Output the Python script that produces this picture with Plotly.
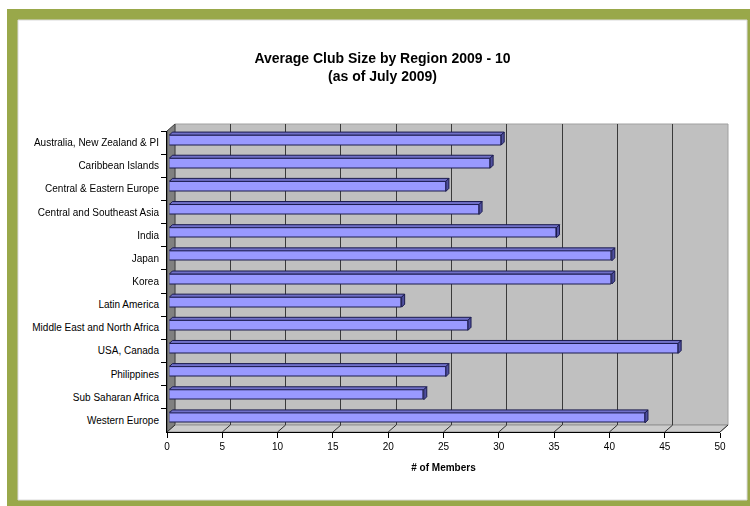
import plotly.graph_objects as go

# Average club size per region (members per club)
regions = [
    "Australia, New Zealand & PI",
    "Caribbean Islands",
    "Central & Eastern Europe",
    "Central and Southeast Asia",
    "India",
    "Japan",
    "Korea",
    "Latin America",
    "Middle East and North Africa",
    "USA, Canada",
    "Philippines",
    "Sub Saharan Africa",
    "Western Europe",
]
members = [30, 29, 25, 28, 35, 40, 40, 21, 27, 46, 25, 23, 43]
x_ticks = [0, 5, 10, 15, 20, 25, 30, 35, 40, 45, 50]

FONT = "Liberation Sans, Arial, sans-serif"
FIG_W, FIG_H = 750, 506
ML, MR, MT, MB = 167, 22, 124, 74
PW = FIG_W - ML - MR          # paper width in px
PH = FIG_H - MT - MB          # paper height in px
XMAX = 50
N = len(regions)

# pseudo-3D geometry (pixels)
DEPTH_X, DEPTH_Y = 8, 7       # back wall offset
BAR_SX, BAR_SY = 2.4, 2.5     # bar front-face offset
BAR_DX, BAR_DY = 3.0, 3.0     # bar depth
FRONT_W = PW - DEPTH_X
FRONT_H = PH - DEPTH_Y
px_per_x = FRONT_W / XMAX
px_per_cat = FRONT_H / N


def fx(px):
    return (px - ML) / PW


def fy(py):
    return (FIG_H - MB - py) / PH


front_left, front_right = ML, ML + FRONT_W
front_bottom, front_top = FIG_H - MB, FIG_H - MB - FRONT_H
back_left, back_right = front_left + DEPTH_X, front_right + DEPTH_X
back_bottom, back_top = front_bottom - DEPTH_Y, front_top - DEPTH_Y

fig = go.Figure()

# front axes: carries category labels and the value scale
fig.add_trace(go.Scatter(x=members, y=regions, mode="markers", opacity=0,
                         hoverinfo="skip", showlegend=False,
                         xaxis="x", yaxis="y"))
# back wall axes: carries the vertical gridlines
fig.add_trace(go.Scatter(x=[0, XMAX], y=[0, 0], mode="markers", opacity=0,
                         hoverinfo="skip", showlegend=False,
                         xaxis="x2", yaxis="y2"))

# bars (front faces)
idx = list(range(N))
bar_w = 10 / px_per_cat
fig.add_trace(go.Bar(x=members, y=idx, orientation="h", width=bar_w,
                     marker=dict(color="#9999FF", line=dict(color="#1A1A4D", width=1)),
                     showlegend=False, xaxis="x3", yaxis="y3", hoverinfo="skip"))

# bar top and end faces
ddx = BAR_DX / px_per_x
ddy = BAR_DY / px_per_cat
for i, v in enumerate(members):
    top = i - bar_w / 2
    bot = i + bar_w / 2
    fig.add_trace(go.Scatter(
        x=[0, ddx, v + ddx, v, 0], y=[top, top - ddy, top - ddy, top, top],
        fill="toself", fillcolor="#7070C8", mode="lines",
        line=dict(color="#1A1A4D", width=1), showlegend=False,
        hoverinfo="skip", xaxis="x3", yaxis="y3"))
    fig.add_trace(go.Scatter(
        x=[v, v + ddx, v + ddx, v, v], y=[top, top - ddy, bot - ddy, bot, top],
        fill="toself", fillcolor="#5050A0", mode="lines",
        line=dict(color="#1A1A4D", width=1), showlegend=False,
        hoverinfo="skip", xaxis="x3", yaxis="y3"))

shapes = []
# outer olive frame and inner white panel
shapes.append(dict(type="rect", xref="paper", yref="paper", layer="below",
                   x0=fx(7), x1=fx(FIG_W + 2), y0=fy(FIG_H + 2), y1=fy(9),
                   fillcolor="#99A84A", line=dict(width=0)))
shapes.append(dict(type="rect", xref="paper", yref="paper", layer="below",
                   x0=fx(18), x1=fx(747), y0=fy(500), y1=fy(20),
                   fillcolor="#FFFFFF", line=dict(color="#DADADA", width=1)))
# back wall
shapes.append(dict(type="rect", xref="paper", yref="paper", layer="below",
                   x0=fx(back_left), x1=fx(back_right), y0=fy(back_bottom), y1=fy(back_top),
                   fillcolor="#C0C0C0", line=dict(color="#A0A0A0", width=1)))
# left side wall
shapes.append(dict(type="path", xref="paper", yref="paper", layer="below",
                   path=(f"M{fx(front_left)},{fy(front_bottom)} L{fx(front_left)},{fy(front_top)} "
                         f"L{fx(back_left)},{fy(back_top)} L{fx(back_left)},{fy(back_bottom)} Z"),
                   fillcolor="#808080", line=dict(color="#404040", width=1)))
# floor
shapes.append(dict(type="path", xref="paper", yref="paper", layer="below",
                   path=(f"M{fx(front_left)},{fy(front_bottom)} L{fx(front_right)},{fy(front_bottom)} "
                         f"L{fx(back_right)},{fy(back_bottom)} L{fx(back_left)},{fy(back_bottom)} Z"),
                   fillcolor="#CCCCCC", line=dict(color="#909090", width=1)))
# floor gridlines running from the front scale to the back wall
for t in x_ticks:
    x0 = fx(front_left + t * px_per_x)
    shapes.append(dict(type="line", xref="paper", yref="paper", layer="below",
                       x0=x0, x1=x0 + DEPTH_X / PW,
                       y0=fy(front_bottom), y1=fy(back_bottom),
                       line=dict(color="#303030", width=1)))

fig.update_layout(
    width=FIG_W, height=FIG_H,
    margin=dict(l=ML, r=MR, t=MT, b=MB, pad=0),
    paper_bgcolor="#FFFFFF", plot_bgcolor="rgba(0,0,0,0)",
    font=dict(family=FONT, size=10, color="#000000"),
    title=dict(text="Average Club Size by Region 2009 - 10<br>(as of July 2009)",
               x=382.5 / FIG_W, xref="container", xanchor="center",
               y=1 - 63 / FIG_H, yref="container", yanchor="top",
               font=dict(family=FONT, size=14, color="#000000", weight="bold")),
    shapes=shapes,
    bargap=0,
    xaxis=dict(domain=[0, FRONT_W / PW], range=[0, XMAX], tickvals=x_ticks,
               ticks="outside", ticklen=5, tickcolor="#000000", showgrid=False,
               zeroline=False, showline=True, linecolor="#000000", linewidth=1,
               anchor="y", tickfont=dict(size=10),
               title=dict(text="<b># of Members</b>", font=dict(size=10), standoff=12)),
    yaxis=dict(domain=[0, FRONT_H / PH], type="category", categoryorder="array",
               categoryarray=regions, range=[N - 0.5, -0.5], tickson="boundaries",
               ticks="outside", ticklen=5, tickcolor="#000000", showgrid=False,
               zeroline=False, showline=True, linecolor="#000000", linewidth=1,
               anchor="x", tickfont=dict(size=10), ticklabelstandoff=5),
    xaxis2=dict(domain=[DEPTH_X / PW, 1], range=[0, XMAX], dtick=5, showgrid=True,
                gridcolor="#3A3A3A", gridwidth=1, showticklabels=False, ticks="",
                zeroline=False, showline=False, anchor="y2"),
    yaxis2=dict(domain=[DEPTH_Y / PH, 1], range=[0, 1], visible=False, anchor="x2"),
    xaxis3=dict(domain=[BAR_SX / PW, (BAR_SX + FRONT_W) / PW], range=[0, XMAX],
                visible=False, anchor="y3"),
    yaxis3=dict(domain=[BAR_SY / PH, (BAR_SY + FRONT_H) / PH], range=[N - 0.5, -0.5],
                visible=False, anchor="x3"),
)

fig.write_html("out.html")
